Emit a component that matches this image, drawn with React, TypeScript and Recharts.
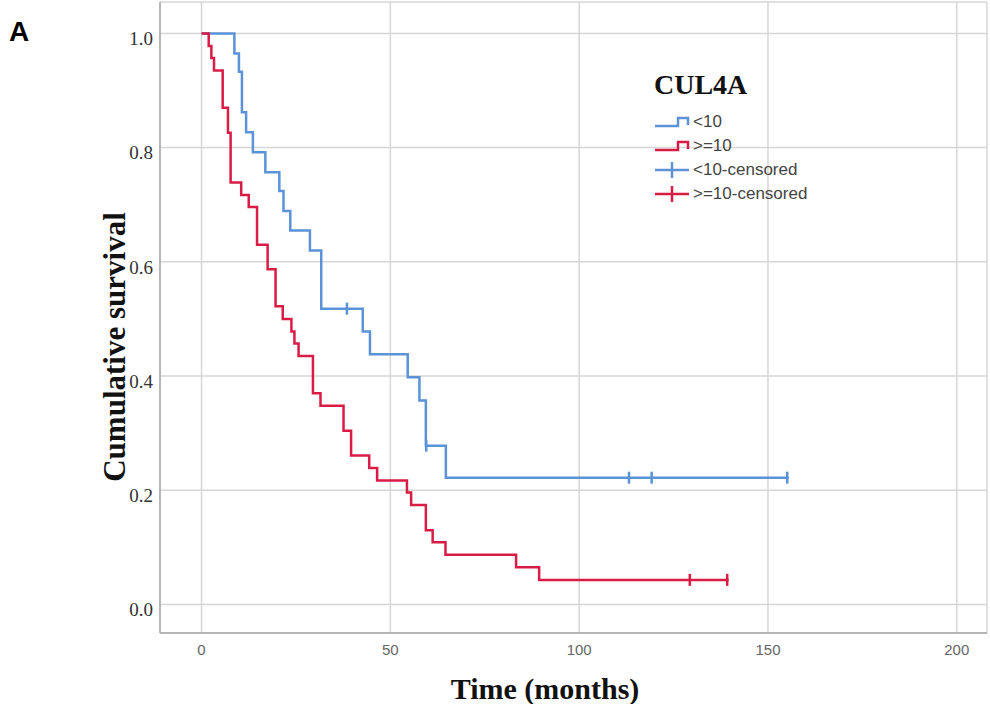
import React from 'react';
import { ComposedChart, Line, Scatter, XAxis, YAxis, CartesianGrid } from 'recharts';

// Kaplan-Meier estimates (time in months)
const lowTimes = [0, 8.7, 9.9, 10.7, 11.8, 13.6, 16.9, 20.6, 21.7, 23.5, 28.7, 31.7, 42.7, 44.6, 54.6, 57.7, 59.4, 64.7, 155.5];
const lowSurvival = [1.0, 0.965, 0.933, 0.862, 0.827, 0.792, 0.757, 0.724, 0.689, 0.655, 0.62, 0.518, 0.478, 0.438, 0.398, 0.357, 0.278, 0.222, 0.222];
const lowCensorTimes = [38.5, 59.5, 113.2, 119.2, 155.1];
const lowCensorSurvival = [0.518, 0.278, 0.222, 0.222, 0.222];

const highTimes = [0, 1.9, 2.6, 3.3, 5.6, 7.0, 7.7, 10.5, 12.5, 14.7, 17.5, 19.6, 21.5, 23.8, 24.6, 25.7, 29.5, 31.5, 37.6, 39.6, 44.4, 46.5, 54.4, 55.5, 59.4, 61.2, 64.6, 83.3, 89.4, 139.6];
const highSurvival = [1.0, 0.978, 0.957, 0.935, 0.87, 0.826, 0.739, 0.717, 0.696, 0.63, 0.587, 0.522, 0.5, 0.478, 0.457, 0.435, 0.37, 0.348, 0.304, 0.261, 0.239, 0.217, 0.196, 0.174, 0.13, 0.109, 0.087, 0.065, 0.043, 0.043];
const highCensorTimes = [129.3, 139.2];
const highCensorSurvival = [0.043, 0.043];

const xTicks = [0, 50, 100, 150, 200];
const yTicks = [0, 0.2, 0.4, 0.6, 0.8, 1.0];

const BLUE = '#5b92d8';
const RED = '#d91c45';

const legendItems = [
  { label: '<10', color: BLUE, kind: 'step' },
  { label: '>=10', color: RED, kind: 'step' },
  { label: '<10-censored', color: BLUE, kind: 'cross' },
  { label: '>=10-censored', color: RED, kind: 'cross' },
];

const toPoints = (ts: number[], ss: number[]) => ts.map((t, i) => ({ t, s: ss[i] }));

const lowData = toPoints(lowTimes, lowSurvival);
const highData = toPoints(highTimes, highSurvival);
const lowCensored = toPoints(lowCensorTimes, lowCensorSurvival);
const highCensored = toPoints(highCensorTimes, highCensorSurvival);

const censorMark = (color: string) => (props: any) => {
  const { cx, cy } = props;
  return <line x1={cx} x2={cx} y1={cy - 6} y2={cy + 6} stroke={color} strokeWidth={2.5} />;
};

const YTitle = () => (
  <text
    x={114}
    y={347}
    transform="rotate(-90 114 347)"
    textAnchor="middle"
    dominantBaseline="central"
    fontFamily="Liberation Serif"
    fontWeight="bold"
    fontSize={31}
    fill="#111"
  >
    Cumulative survival
  </text>
);

const XTitle = () => (
  <text
    x={545}
    y={688}
    textAnchor="middle"
    dominantBaseline="central"
    fontFamily="Liberation Serif"
    fontWeight="bold"
    fontSize={30}
    fill="#111"
  >
    Time (months)
  </text>
);

const LegendIcon = ({ color, kind }: { color: string; kind: string }) => (
  <svg width={36} height={18} style={{ display: 'block' }}>
    {kind === 'step' ? (
      <path d="M1 13 H24 V5 H34 V12" fill="none" stroke={color} strokeWidth={2.5} />
    ) : (
      <g stroke={color} strokeWidth={2.5}>
        <line x1={1} x2={35} y1={9} y2={9} />
        <line x1={18} x2={18} y1={1} y2={17} />
      </g>
    )}
  </svg>
);

const KmLegend = () => (
  <div style={{ position: 'absolute', left: 654, top: 67 }}>
    <div style={{ fontFamily: 'Liberation Serif', fontWeight: 'bold', fontSize: 28, color: '#111', lineHeight: '36px', marginBottom: 7 }}>
      CUL4A
    </div>
    {legendItems.map((item) => (
      <div key={item.label} style={{ display: 'flex', alignItems: 'center', height: 24 }}>
        <LegendIcon color={item.color} kind={item.kind} />
        <span style={{ fontFamily: 'Liberation Sans', fontSize: 17, color: '#444', marginLeft: 3 }}>{item.label}</span>
      </div>
    ))}
  </div>
);

export default function App() {
  return (
    <div style={{ position: 'absolute', left: 0, top: 0, width: 990, height: 704, background: '#fff' }}>
      <ComposedChart width={990} height={704} margin={{ top: 2, right: 3, left: 0, bottom: 0 }}>
        <CartesianGrid stroke="#d6d6d6" strokeWidth={1.5} />
        <XAxis
          type="number"
          dataKey="t"
          domain={[-11, 208]}
          ticks={xTicks}
          allowDataOverflow
          height={71}
          tickLine={false}
          tickSize={0}
          tickMargin={11}
          axisLine={{ stroke: '#a8a8a8', strokeWidth: 1.5 }}
          tick={{ fill: '#666', fontSize: 15, fontFamily: 'Liberation Sans' }}
          label={<XTitle />}
        />
        <YAxis
          type="number"
          dataKey="s"
          domain={[-0.05, 1.055]}
          ticks={yTicks}
          allowDataOverflow
          width={160}
          tickLine={false}
          tickSize={0}
          tickMargin={7}
          axisLine={{ stroke: '#a8a8a8', strokeWidth: 1.5 }}
          tick={{ fill: '#333', fontSize: 19, fontFamily: 'Liberation Serif', dy: 5 }}
          tickFormatter={(v: number) => v.toFixed(1)}
          label={<YTitle />}
        />
        <Line data={lowData} dataKey="s" type="stepAfter" stroke={BLUE} strokeWidth={2.5} dot={false} activeDot={false} isAnimationActive={false} />
        <Line data={highData} dataKey="s" type="stepAfter" stroke={RED} strokeWidth={2.5} dot={false} activeDot={false} isAnimationActive={false} />
        <Scatter data={lowCensored} dataKey="s" shape={censorMark(BLUE)} isAnimationActive={false} />
        <Scatter data={highCensored} dataKey="s" shape={censorMark(RED)} isAnimationActive={false} />
      </ComposedChart>
      <div style={{ position: 'absolute', left: 9, top: 16, fontFamily: 'Liberation Sans', fontWeight: 'bold', fontSize: 28, color: '#000' }}>
        A
      </div>
      <KmLegend />
    </div>
  );
}
